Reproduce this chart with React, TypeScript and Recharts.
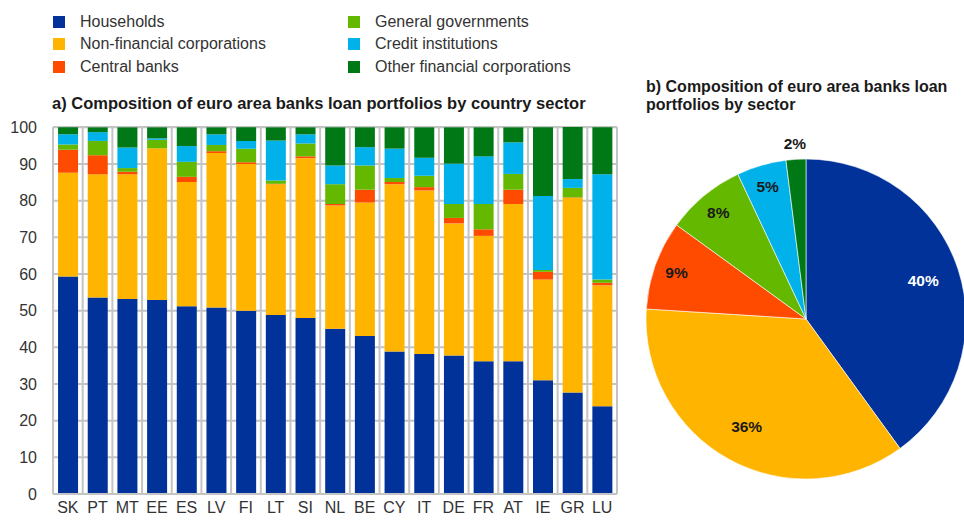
import { BarChart, Bar, XAxis, YAxis, CartesianGrid, PieChart, Pie, Cell } from 'recharts';

const countries = ['SK', 'PT', 'MT', 'EE', 'ES', 'LV', 'FI', 'LT', 'SI', 'NL', 'BE', 'CY', 'IT', 'DE', 'FR', 'AT', 'IE', 'GR', 'LU'];
const households = [59.3, 53.6, 53.2, 52.9, 51.2, 50.9, 50.0, 48.8, 48.0, 45.1, 43.1, 38.9, 38.2, 37.8, 36.2, 36.2, 31.0, 27.7, 23.9];
const nonFinancialCorps = [28.3, 33.6, 34.0, 41.4, 33.9, 42.1, 40.0, 35.7, 43.6, 33.6, 36.4, 45.6, 44.6, 36.0, 34.2, 42.9, 27.5, 53.1, 33.0];
const centralBanks = [6.3, 5.2, 0.7, 0, 1.4, 0.5, 0.5, 0.1, 0.5, 0.4, 3.5, 0.6, 0.9, 1.5, 1.8, 3.9, 2.1, 0.1, 0.7];
const generalGovernments = [1.4, 3.9, 1.0, 2.3, 4.1, 1.7, 3.7, 0.9, 3.5, 5.4, 6.6, 1.1, 3.1, 3.8, 6.9, 4.3, 0.5, 2.6, 0.9];
const creditInstitutions = [2.8, 2.4, 5.6, 0.4, 4.3, 2.9, 2.1, 10.9, 2.5, 5.1, 5.0, 8.0, 4.9, 11.0, 13.0, 8.6, 20.2, 2.4, 28.7];
const otherFinancialCorps = [1.9, 1.3, 5.5, 3.0, 5.1, 1.9, 3.7, 3.6, 1.9, 10.4, 5.4, 5.8, 8.3, 9.9, 7.9, 4.1, 18.7, 14.2, 12.8];

const yTicks = [0, 10, 20, 30, 40, 50, 60, 70, 80, 90, 100];

const sectorNames = ['Households', 'Non-financial corporations', 'Central banks', 'General governments', 'Credit institutions', 'Other financial corporations'];
const sectorKeys = ['hh', 'nfc', 'cb', 'gg', 'ci', 'ofc'];
const sectorColors = ['#003299', '#FFB400', '#FF4B00', '#65B800', '#00B1EA', '#007816'];
const sectorShares = [40, 36, 9, 8, 5, 2];

const barData = countries.map((c, i) => ({
  name: c,
  hh: households[i],
  nfc: nonFinancialCorps[i],
  cb: centralBanks[i],
  gg: generalGovernments[i],
  ci: creditInstitutions[i],
  ofc: otherFinancialCorps[i],
}));

const pieData = sectorNames.map((n, i) => ({ name: n, value: sectorShares[i] }));

const FONT = '"Liberation Sans", Arial, sans-serif';
const gridColor = '#C4C4C4';
const textColor = '#333333';

const RADIAN = Math.PI / 180;

function renderPieLabel(props: any) {
  const { cx, cy, midAngle, outerRadius, value, index } = props;
  let factor = 0.86;
  if (value >= 30) factor = 0.77;
  if (value < 3) factor = 1.1;
  const r = outerRadius * factor;
  const x = cx + r * Math.cos(-midAngle * RADIAN);
  const y = cy + r * Math.sin(-midAngle * RADIAN);
  return (
    <text
      x={x}
      y={y}
      textAnchor="middle"
      dominantBaseline="central"
      fill={index === 0 ? '#ffffff' : '#1a1a1a'}
      style={{ fontFamily: FONT, fontSize: 15.5, fontWeight: 700 }}
    >
      {`${value}%`}
    </text>
  );
}

function LegendItem({ label, color, x, y }: { label: string; color: string; x: number; y: number }) {
  return (
    <div style={{ position: 'absolute', left: x, top: y - 10, height: 20, display: 'flex', alignItems: 'center' }}>
      <div style={{ width: 12, height: 12, background: color, marginRight: 15 }} />
      <span style={{ fontSize: 16, color: textColor, whiteSpace: 'nowrap' }}>{label}</span>
    </div>
  );
}

export default function App() {
  const legendRows = [22, 44, 67];

  return (
    <div style={{ position: 'absolute', left: 0, top: 0, width: 964, height: 520, background: '#fff', fontFamily: FONT, overflow: 'hidden' }}>
      {sectorNames.map((name, i) => (
        <LegendItem
          key={name}
          label={name}
          color={sectorColors[i]}
          x={i < 3 ? 53 : 348}
          y={legendRows[i % 3]}
        />
      ))}

      <div style={{ position: 'absolute', left: 52, top: 94, fontSize: 16.5, fontWeight: 700, color: '#1a1a1a', whiteSpace: 'nowrap' }}>
        a) Composition of euro area banks loan portfolios by country sector
      </div>

      <div style={{ position: 'absolute', left: 0, top: 0 }}>
        <BarChart
          width={640}
          height={520}
          data={barData}
          margin={{ top: 127, right: 23, bottom: 0, left: 0 }}
          barCategoryGap="17%"
        >
          <CartesianGrid
            stroke={gridColor}
            strokeWidth={2}
            verticalCoordinatesGenerator={({ offset }: any) =>
              countries.map((_, i) => offset.left + (i * offset.width) / countries.length).concat(offset.left + offset.width)
            }
          />
          <XAxis
            dataKey="name"
            height={26}
            tickLine={false}
            axisLine={{ stroke: gridColor, strokeWidth: 2 }}
            tickMargin={2}
            tick={{ fill: textColor, fontSize: 16, fontFamily: FONT }}
            interval={0}
          />
          <YAxis
            width={53}
            domain={[0, 100]}
            ticks={yTicks}
            tickLine={false}
            axisLine={{ stroke: gridColor, strokeWidth: 2 }}
            tickMargin={10}
            tick={{ fill: textColor, fontSize: 16, fontFamily: FONT }}
            interval={0}
          />
          {sectorKeys.map((k, i) => (
            <Bar key={k} dataKey={k} stackId="a" fill={sectorColors[i]} isAnimationActive={false} />
          ))}
        </BarChart>
      </div>

      <div style={{ position: 'absolute', left: 646, top: 78, fontSize: 16, fontWeight: 700, color: '#1a1a1a', lineHeight: '18px', width: 320 }}>
        b) Composition of euro area banks loan
        <br />
        portfolios by sector
      </div>

      <div style={{ position: 'absolute', left: 636, top: 124 }}>
        <PieChart width={340} height={390}>
          <Pie
            data={pieData}
            dataKey="value"
            cx={165}
            cy={190}
            outerRadius={160}
            startAngle={90}
            endAngle={-270}
            stroke="#ffffff"
            strokeWidth={0.6}
            label={renderPieLabel}
            labelLine={false}
            isAnimationActive={false}
          >
            {pieData.map((d, i) => (
              <Cell key={d.name} fill={sectorColors[i]} />
            ))}
          </Pie>
        </PieChart>
      </div>
    </div>
  );
}
